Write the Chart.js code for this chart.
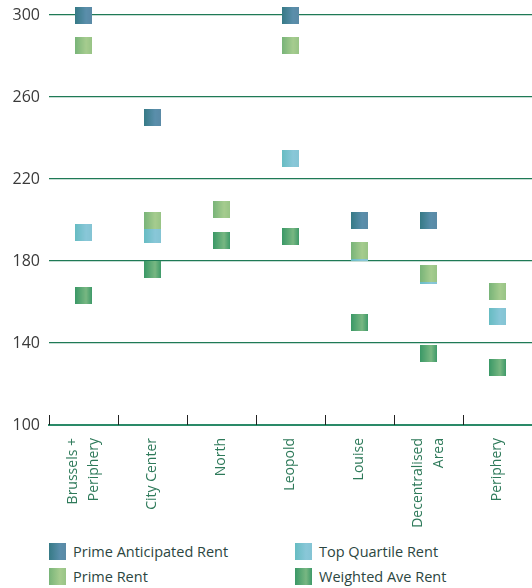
<!DOCTYPE html>
<html>
<head>
<meta charset="utf-8">
<script src="https://cdn.jsdelivr.net/npm/chart.js@4.4.1/dist/chart.umd.min.js"></script>
<style>
    body { margin: 0; background: #fff; }
    .wrap { position: relative; width: 532px; height: 588px; }
    #rentChart { position: absolute; left: 0; top: 0; }
    .legend { position: absolute; left: 49px; top: 543px; font-family: 'Open Sans', sans-serif; font-size: 14.5px; color: #2c4641; }
    .legend__item { position: absolute; white-space: nowrap; line-height: 17px; }
    .legend__box { display: inline-block; width: 17px; height: 17px; vertical-align: top; margin-right: 7px; }
</style>
</head>
<body>
<div class="wrap">
    <canvas id="rentChart" width="532" height="535"></canvas>
    <div class="legend" id="legend"></div>
</div>
<script>
const categories = [['Brussels +', 'Periphery'], 'City Center', 'North', 'Leopold', 'Louise', ['Decentralised', 'Area'], 'Periphery'];
const primeAnticipated = [300, 250, null, 300, 200, 200, null];
const primeRent = [285, 200, 205, 285, 185, 174, 165];
const topQuartile = [194, 193, null, 230, 184, 173, 153];
const weightedAve = [163, 176, 190, 192, 150, 135, 128];
const yTicks = [100, 140, 180, 220, 260, 300];

// little gradient squares used as point style
function makeBox(c1, c2, c3) {
    const c = document.createElement('canvas');
    c.width = 17;
    c.height = 17;
    const g = c.getContext('2d');
    const grad = g.createLinearGradient(0, 0, 17, 0);
    grad.addColorStop(0, c1);
    grad.addColorStop(0.65, c2);
    grad.addColorStop(1, c3);
    g.fillStyle = grad;
    g.fillRect(0, 0, 17, 17);
    return c;
}
const styles = [
    { label: 'Prime Anticipated Rent', data: primeAnticipated, cols: ['#367a86', '#5a8eab', '#5a8aa6'] },
    { label: 'Prime Rent', data: primeRent, cols: ['#78b478', '#a6cc8f', '#98c486'] },
    { label: 'Top Quartile Rent', data: topQuartile, cols: ['#66bcc2', '#89c7d8', '#84c4d4'] },
    { label: 'Weighted Ave Rent', data: weightedAve, cols: ['#3a9866', '#78b782', '#3f9a69'] }
];
styles.forEach(s => { s.img = makeBox(s.cols[0], s.cols[1], s.cols[2]); });

// short tick marks above the x axis, between categories
const tickMarks = {
    id: 'tickMarks',
    afterDraw(chart) {
        const x = chart.scales.x;
        const g = chart.ctx;
        const half = (x.getPixelForValue(1) - x.getPixelForValue(0)) / 2;
        g.save();
        g.strokeStyle = '#222';
        g.lineWidth = 1;
        for (let i = 0; i < categories.length; i++) {
            const px = Math.round(x.getPixelForValue(i) - half) + 0.5;
            g.beginPath();
            g.moveTo(px, chart.chartArea.bottom - 10);
            g.lineTo(px, chart.chartArea.bottom);
            g.stroke();
        }
        g.restore();
    }
};

// two-line labels are centred on the tick: single ones get an empty first line of half height
const isTwoLine = (i) => Array.isArray(categories[i]);

new Chart(document.getElementById('rentChart'), {
    type: 'line',
    data: {
        labels: categories,
        datasets: styles.map(s => ({
            label: s.label,
            data: s.data,
            showLine: false,
            pointStyle: s.img,
            pointRadius: 9,
            pointHoverRadius: 9,
            clip: false
        }))
    },
    options: {
        responsive: false,
        animation: false,
        layout: { autoPadding: false, padding: { top: 15, right: 0, left: 0, bottom: 0 } },
        plugins: {
            legend: { display: false },
            tooltip: { enabled: false }
        },
        scales: {
            x: {
                offset: true,
                grid: { display: false, offset: true },
                border: { display: true, color: '#2a8a68', width: 2 },
                ticks: {
                    maxRotation: 90,
                    minRotation: 90,
                    padding: 5,
                    labelOffset: -10.5,
                    color: '#2e7a5a',
                    callback: (value, i) => isTwoLine(i) ? categories[i] : ['', categories[i]],
                    font: (ctx) => ({ family: 'Open Sans', size: 14, lineHeight: isTwoLine(ctx.index) ? 1.5 : 0.75 })
                },
                afterFit: (scale) => { scale.height = 110; }
            },
            y: {
                min: 100,
                max: 300,
                afterBuildTicks: (scale) => { scale.ticks = yTicks.map(v => ({ value: v })); },
                grid: { color: '#1f7a56', lineWidth: 1.3, drawTicks: false },
                border: { display: false },
                ticks: {
                    padding: 9,
                    color: '#3a3a3a',
                    font: { family: 'Open Sans', size: 16 }
                },
                afterFit: (scale) => {
                    scale.width = 49;
                    scale.paddingTop = 0;
                    scale.paddingBottom = 0;
                }
            }
        }
    },
    plugins: [tickMarks]
});

// legend in two columns, as in the original
const legend = document.getElementById('legend');
const pos = [[0, 0], [0, 25], [246, 0], [246, 25]];
styles.forEach((s, i) => {
    const item = document.createElement('div');
    item.className = 'legend__item';
    item.style.left = pos[i][0] + 'px';
    item.style.top = pos[i][1] + 'px';
    const box = document.createElement('span');
    box.className = 'legend__box';
    box.style.background = 'linear-gradient(to right, ' + s.cols[0] + ', ' + s.cols[1] + ' 65%, ' + s.cols[2] + ')';
    item.appendChild(box);
    item.appendChild(document.createTextNode(s.label));
    legend.appendChild(item);
});
</script>
</body>
</html>
